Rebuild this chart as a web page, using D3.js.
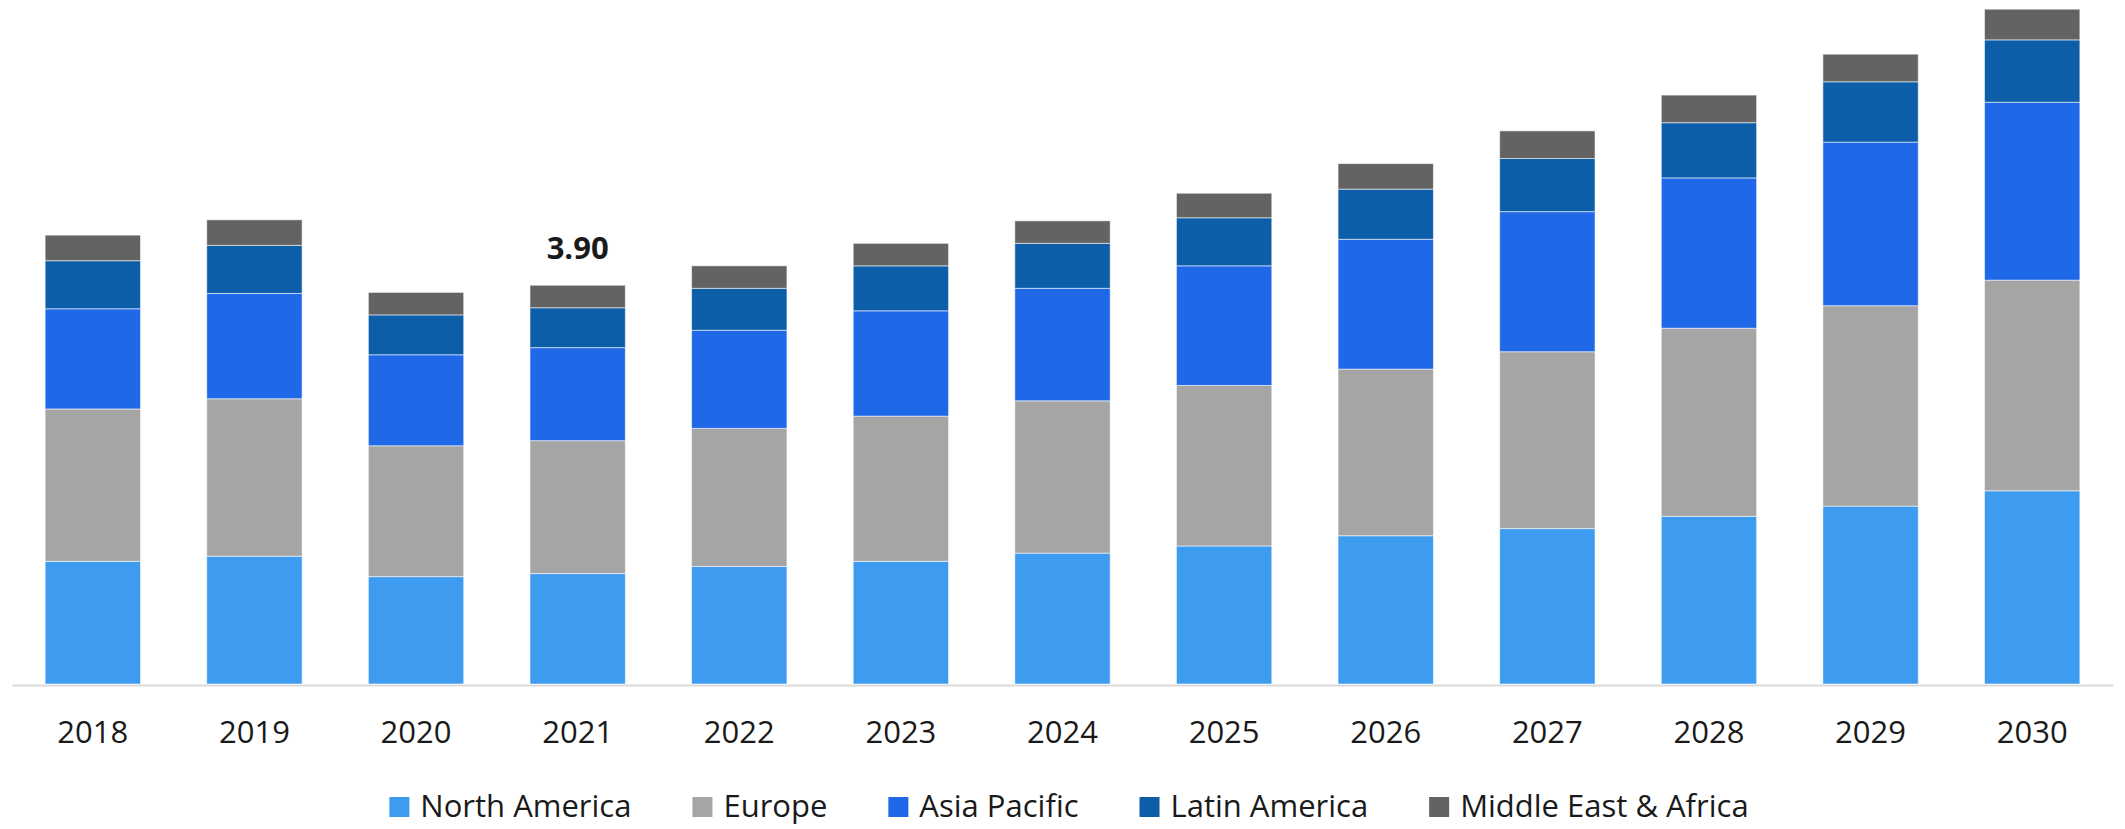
<!DOCTYPE html>
<html>
<head>
<meta charset="utf-8">
<script src="https://cdn.jsdelivr.net/npm/d3@7"></script>
<style>
  html, body { margin: 0; padding: 0; background: #ffffff; }
  svg { display: block; }
  text { font-family: "Open Sans", "Noto Sans", sans-serif; fill: #1a1a1a; }
</style>
</head>
<body>
<svg id="chart" width="2125" height="829"></svg>
<script>
// ---- data ----
const years = ["2018","2019","2020","2021","2022","2023","2024","2025","2026","2027","2028","2029","2030"];
const seriesNames = ["North America","Europe","Asia Pacific","Latin America","Middle East & Africa"];
const northAmerica = [1.20, 1.25, 1.05, 1.08, 1.15, 1.20, 1.28, 1.35, 1.45, 1.52, 1.64, 1.74, 1.89];
const europe       = [1.49, 1.54, 1.28, 1.30, 1.35, 1.42, 1.49, 1.57, 1.63, 1.73, 1.84, 1.96, 2.06];
const asiaPacific  = [0.98, 1.03, 0.89, 0.91, 0.96, 1.03, 1.10, 1.17, 1.27, 1.37, 1.47, 1.60, 1.74];
const latinAmerica = [0.47, 0.47, 0.39, 0.39, 0.41, 0.44, 0.44, 0.47, 0.49, 0.52, 0.54, 0.59, 0.61];
const middleEast   = [0.25, 0.25, 0.22, 0.22, 0.22, 0.22, 0.22, 0.24, 0.25, 0.27, 0.27, 0.27, 0.30];
const colors = ["#3d9bf0", "#a5a5a5", "#1f68e8", "#0d5ea8", "#636363"];
const labelledYear = "2021";

// ---- build table ----
const seriesArrays = [northAmerica, europe, asiaPacific, latinAmerica, middleEast];
const table = years.map((y, i) => {
  const row = { year: y };
  seriesNames.forEach((s, k) => { row[s] = seriesArrays[k][i]; });
  return row;
});

const svg = d3.select("#chart");
const baseY = 684;

const x = d3.scaleBand()
  .domain(years)
  .range([12, 2113])
  .paddingInner(0.41)
  .paddingOuter(0.205);

const y = d3.scaleLinear()
  .domain([0, 6.69])
  .range([baseY, 0]);

const stack = d3.stack().keys(seriesNames);
const stacked = stack(table);

// axis line + tick labels
const axis = svg.append("g")
  .attr("transform", `translate(0,${baseY + 1})`)
  .call(d3.axisBottom(x).tickSize(0).tickPadding(0));
axis.select(".domain").attr("stroke", "#d9d9d9").attr("stroke-width", 2);
axis.selectAll(".tick text")
  .attr("dy", null)
  .attr("y", 58)
  .style("font-size", "31px")
  .style("font-family", "\"Open Sans\", sans-serif")
  .attr("fill", "#1a1a1a");

// bars
const layers = svg.append("g")
  .selectAll("g")
  .data(stacked)
  .join("g")
  .attr("fill", (d, i) => colors[i]);

layers.selectAll("rect")
  .data(d => d)
  .join("rect")
  .attr("x", d => x(d.data.year))
  .attr("width", x.bandwidth())
  .attr("y", d => y(d[1]))
  .attr("height", d => y(d[0]) - y(d[1]))
  .attr("stroke", "rgba(255,255,255,0.55)")
  .attr("stroke-width", 1);

// value label
const idx = years.indexOf(labelledYear);
const total = d3.sum(seriesArrays, arr => arr[idx]);
svg.append("text")
  .attr("x", x(labelledYear) + x.bandwidth() / 2)
  .attr("y", y(total) - 26)
  .attr("text-anchor", "middle")
  .style("font-size", "31px")
  .style("font-weight", "700")
  .text(d3.format(".2f")(total));

// legend
const legend = svg.append("g");
const items = legend.selectAll("g")
  .data(seriesNames)
  .join("g");
items.append("rect")
  .attr("width", 20)
  .attr("height", 20)
  .attr("y", 797)
  .attr("fill", (d, i) => colors[i]);
items.append("text")
  .attr("x", 31)
  .attr("y", 817)
  .style("font-size", "31px")
  .text(d => d);

const itemGap = 61;
let cursor = 0;
const offsets = [];
items.each(function() {
  const w = d3.select(this).select("text").node().getComputedTextLength();
  offsets.push(cursor);
  cursor += 31 + w + itemGap;
});
const legendWidth = cursor - itemGap;
const legendStart = 1069 - legendWidth / 2;
items.attr("transform", (d, i) => `translate(${legendStart + offsets[i]},0)`);
</script>
</body>
</html>
